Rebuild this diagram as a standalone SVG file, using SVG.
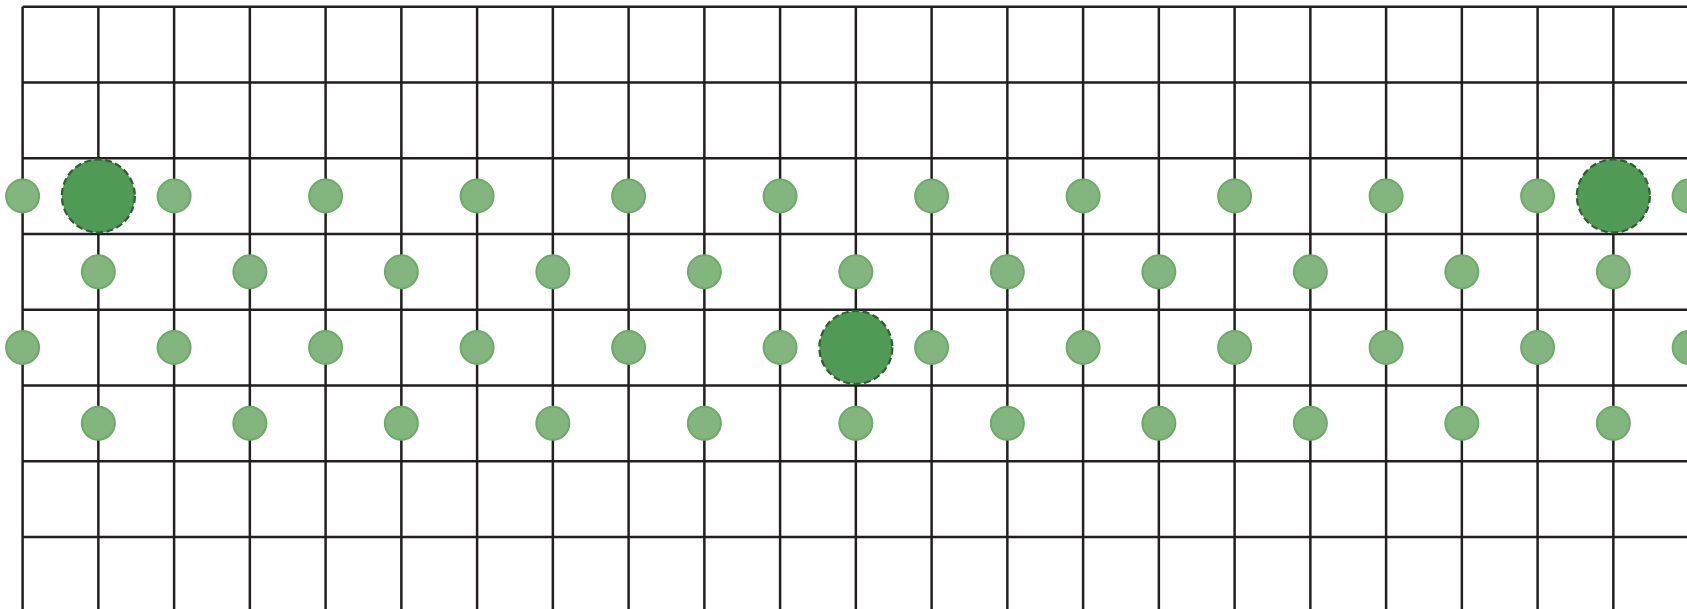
<svg xmlns="http://www.w3.org/2000/svg" width="1687" height="609" viewBox="0 0 1687 609">
<style>
.g{stroke:#231f20;stroke-width:2.5;fill:none}
.s{fill:#83b57e;stroke:#6cab67;stroke-width:2}
.b{fill:#4f9a55;stroke:#2f5f31;stroke-width:2.2;stroke-dasharray:7 3.5}
</style>
<rect width="1687" height="609" fill="#fff"/>
<g id="grid" class="g">
<path d="M22.6 6.7H1687M22.6 82.4H1687M22.6 158.2H1687M22.6 233.9H1687M22.6 309.7H1687M22.6 385.4H1687M22.6 461.2H1687M22.6 536.9H1687"/>
<path d="M22.6 6.7V609M98.35 6.7V609M174.1 6.7V609M249.85 6.7V609M325.6 6.7V609M401.35 6.7V609M477.1 6.7V609M552.85 6.7V609M628.6 6.7V609M704.35 6.7V609M780.1 6.7V609M855.85 6.7V609M931.6 6.7V609M1007.35 6.7V609M1083.1 6.7V609M1158.85 6.7V609M1234.6 6.7V609M1310.35 6.7V609M1386.1 6.7V609M1461.85 6.7V609M1537.6 6.7V609M1613.35 6.7V609"/>
</g>
<g id="row1">
<circle class="s" cx="22.6" cy="196" r="16.5"/>
<circle class="s" cx="174.1" cy="196" r="16.5"/>
<circle class="s" cx="325.6" cy="196" r="16.5"/>
<circle class="s" cx="477.1" cy="196" r="16.5"/>
<circle class="s" cx="628.6" cy="196" r="16.5"/>
<circle class="s" cx="780.1" cy="196" r="16.5"/>
<circle class="s" cx="931.6" cy="196" r="16.5"/>
<circle class="s" cx="1083.1" cy="196" r="16.5"/>
<circle class="s" cx="1234.6" cy="196" r="16.5"/>
<circle class="s" cx="1386.1" cy="196" r="16.5"/>
<circle class="s" cx="1537.6" cy="196" r="16.5"/>
<circle class="s" cx="1689.1" cy="196" r="16.5"/>
</g>
<g id="row2">
<circle class="s" cx="98.35" cy="271.8" r="16.5"/>
<circle class="s" cx="249.85" cy="271.8" r="16.5"/>
<circle class="s" cx="401.35" cy="271.8" r="16.5"/>
<circle class="s" cx="552.85" cy="271.8" r="16.5"/>
<circle class="s" cx="704.35" cy="271.8" r="16.5"/>
<circle class="s" cx="855.85" cy="271.8" r="16.5"/>
<circle class="s" cx="1007.35" cy="271.8" r="16.5"/>
<circle class="s" cx="1158.85" cy="271.8" r="16.5"/>
<circle class="s" cx="1310.35" cy="271.8" r="16.5"/>
<circle class="s" cx="1461.85" cy="271.8" r="16.5"/>
<circle class="s" cx="1613.35" cy="271.8" r="16.5"/>
</g>
<g id="row3">
<circle class="s" cx="22.6" cy="347.5" r="16.5"/>
<circle class="s" cx="174.1" cy="347.5" r="16.5"/>
<circle class="s" cx="325.6" cy="347.5" r="16.5"/>
<circle class="s" cx="477.1" cy="347.5" r="16.5"/>
<circle class="s" cx="628.6" cy="347.5" r="16.5"/>
<circle class="s" cx="780.1" cy="347.5" r="16.5"/>
<circle class="s" cx="931.6" cy="347.5" r="16.5"/>
<circle class="s" cx="1083.1" cy="347.5" r="16.5"/>
<circle class="s" cx="1234.6" cy="347.5" r="16.5"/>
<circle class="s" cx="1386.1" cy="347.5" r="16.5"/>
<circle class="s" cx="1537.6" cy="347.5" r="16.5"/>
<circle class="s" cx="1689.1" cy="347.5" r="16.5"/>
</g>
<g id="row4">
<circle class="s" cx="98.35" cy="423.3" r="16.5"/>
<circle class="s" cx="249.85" cy="423.3" r="16.5"/>
<circle class="s" cx="401.35" cy="423.3" r="16.5"/>
<circle class="s" cx="552.85" cy="423.3" r="16.5"/>
<circle class="s" cx="704.35" cy="423.3" r="16.5"/>
<circle class="s" cx="855.85" cy="423.3" r="16.5"/>
<circle class="s" cx="1007.35" cy="423.3" r="16.5"/>
<circle class="s" cx="1158.85" cy="423.3" r="16.5"/>
<circle class="s" cx="1310.35" cy="423.3" r="16.5"/>
<circle class="s" cx="1461.85" cy="423.3" r="16.5"/>
<circle class="s" cx="1613.35" cy="423.3" r="16.5"/>
</g>
<g id="big">
<circle class="b" cx="98.35" cy="196" r="36.5"/>
<circle class="b" cx="855.85" cy="347.5" r="36.5"/>
<circle class="b" cx="1613.35" cy="196" r="36.5"/>
</g>
</svg>
